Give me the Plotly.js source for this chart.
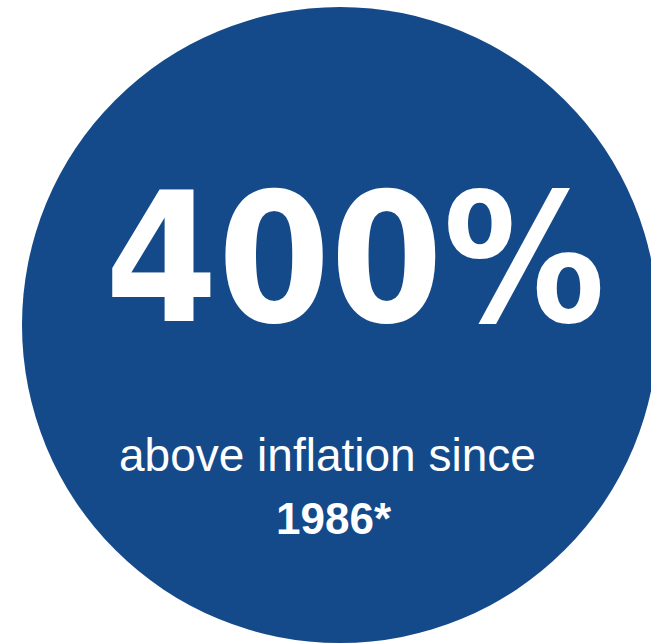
<!DOCTYPE html>
<html>
<head>
<meta charset="utf-8">
<script src="https://cdn.plot.ly/plotly-3.0.1.min.js"></script>
<style>
  html, body { margin: 0; padding: 0; background: #ffffff; }
  #chart { width: 651px; height: 643px; }
</style>
</head>
<body>
<div id="chart"></div>
<script>
// ---- data ----
const metricValue = [400];
const metricUnit = ['%'];
const captionText = ['above inflation since'];
const captionYear = ['1986*'];

// ---- layout ----
const W = 651, H = 643;
const blue = '#144a89';

const layout = {
  width: W,
  height: H,
  margin: {l: 0, r: 0, t: 0, b: 0, pad: 0},
  paper_bgcolor: '#ffffff',
  plot_bgcolor: '#ffffff',
  showlegend: false,
  xaxis: {range: [0, W], visible: false, fixedrange: true},
  yaxis: {range: [H, 0], visible: false, fixedrange: true},
  shapes: [{
    type: 'circle', xref: 'x', yref: 'y',
    x0: 22, x1: 658, y0: 7, y1: 643,
    fillcolor: blue, line: {width: 0}, layer: 'below'
  }],
  annotations: [
    {
      xref: 'x', yref: 'y', x: 355, y: 258,
      xanchor: 'center', yanchor: 'middle',
      text: String(metricValue[0]) + metricUnit[0],
      showarrow: false,
      font: {family: 'DejaVu Sans Condensed, DejaVu Sans, sans-serif', size: 180, color: '#ffffff', weight: 'bold'}
    },
    {
      xref: 'x', yref: 'y', x: 327, y: 455,
      xanchor: 'center', yanchor: 'middle',
      text: captionText[0],
      showarrow: false,
      font: {family: 'Liberation Sans, Arial, sans-serif', size: 46, color: '#ffffff'}
    },
    {
      xref: 'x', yref: 'y', x: 334, y: 518,
      xanchor: 'center', yanchor: 'middle',
      text: '<b>' + captionYear[0] + '</b>',
      showarrow: false,
      font: {family: 'Liberation Sans, Arial, sans-serif', size: 44, color: '#ffffff'}
    }
  ]
};

Plotly.newPlot('chart', [{
  type: 'scatter', x: [], y: [], mode: 'markers', hoverinfo: 'skip'
}], layout, {staticPlot: true, displayModeBar: false});
</script>
</body>
</html>
